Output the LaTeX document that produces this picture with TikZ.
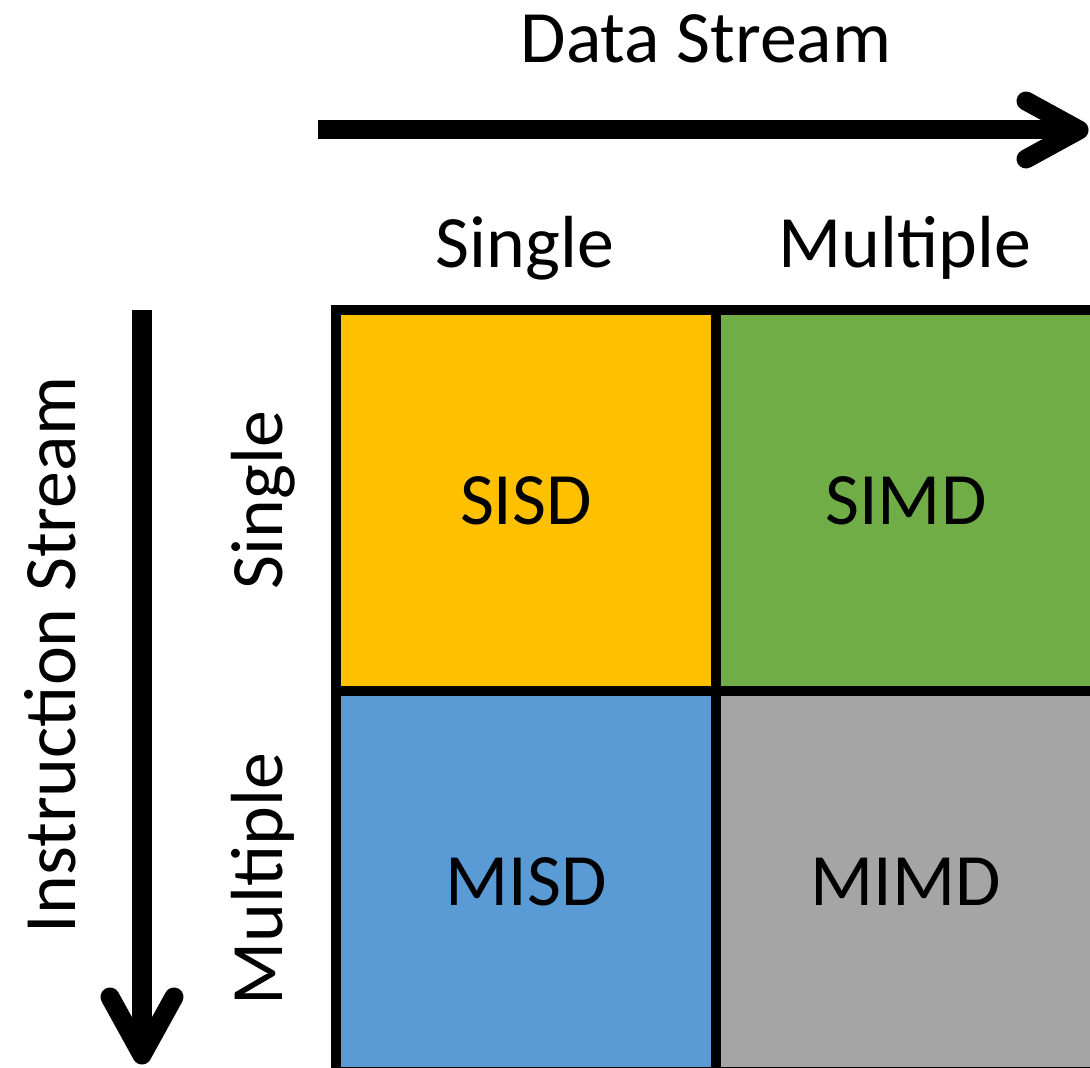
\documentclass[tikz,border=0pt]{standalone}
\usepackage{fontspec}
\setmainfont{Carlito}
\usetikzlibrary{calc}

\definecolor{sisdcol}{HTML}{FFC000}
\definecolor{simdcol}{HTML}{70AD47}
\definecolor{misdcol}{HTML}{5B9BD5}
\definecolor{mimdcol}{HTML}{A5A5A5}

\begin{document}
\begin{tikzpicture}[
  x=0.01cm, y=-0.01cm,
  lbl/.style={font=\fontsize{21}{25}\selectfont, inner sep=0pt, anchor=base},
  cell/.style={draw=black, line width=0.1cm, minimum width=3.8cm,
    minimum height=3.81cm, inner sep=0pt,
    font=\fontsize{21}{25}\selectfont},
  shaft/.style={line width=0.19cm, line cap=butt},
  barb/.style={line width=0.19cm, line cap=round, line join=round}
]
\clip (0,0) rectangle (1090,1068);

% Data stream axis (left to right)
\coordinate (dsA) at (318,130);
\coordinate (dsB) at (1079,130);
\draw[shaft] (dsA) -- (dsB);
\draw[barb] ($(dsB)+(-53,-29)$) -- (dsB) -- ($(dsB)+(-53,29)$);
\node[lbl] (dslabel) at (706,63) {Data Stream};

% Instruction stream axis (top to bottom)
\coordinate (isA) at (142,310);
\coordinate (isB) at (142,1055);
\draw[shaft] (isA) -- (isB);
\draw[barb] ($(isB)+(-32,-58)$) -- (isB) -- ($(isB)+(32,-58)$);
\node[lbl, rotate=90] (islabel) at (76,655) {Instruction Stream};

% Column and row headings
\node[lbl] (colS) at (525,268) {Single};
\node[lbl] (colM) at (905,268) {Multiple};
\node[lbl, rotate=90] (rowS) at (282,500) {Single};
\node[lbl, rotate=90] (rowM) at (282,879) {Multiple};

% Flynn's taxonomy grid
\node[cell, fill=sisdcol] (sisd) at (526,500.5) {SISD};
\node[cell, fill=simdcol] (simd) at (906,500.5) {SIMD};
\node[cell, fill=misdcol] (misd) at (526,881.5) {MISD};
\node[cell, fill=mimdcol] (mimd) at (906,881.5) {MIMD};
\end{tikzpicture}
\end{document}
